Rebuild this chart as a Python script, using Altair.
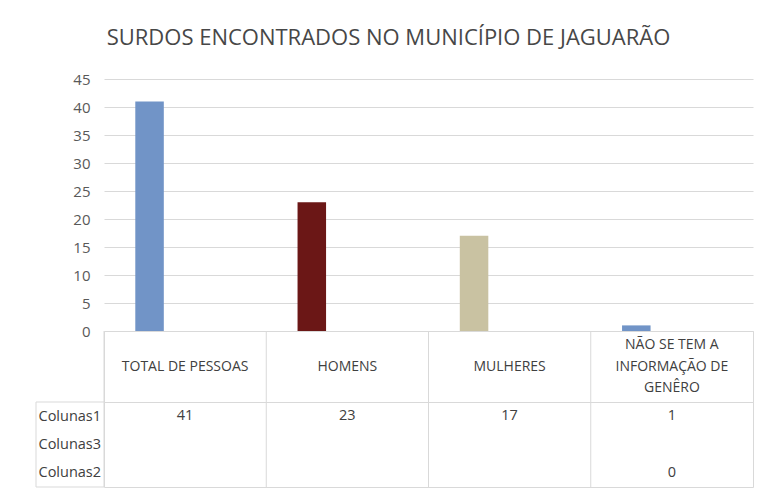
import altair as alt
import pandas as pd

# ---- data ----
title_text = "SURDOS ENCONTRADOS NO MUNICÍPIO DE JAGUARÃO"
categories = ["TOTAL DE PESSOAS", "HOMENS", "MULHERES", "NÃO SE TEM A\nINFORMAÇÃO DE\nGENÊRO"]
series = ["Colunas1", "Colunas3", "Colunas2"]
colunas1 = [41, 23, 17, 1]
colunas3 = [None, None, None, None]
colunas2 = [None, None, None, 0]
bar_colors = ["#7194C7", "#6B1716", "#C9C2A2", "#7194C7"]
y_ticks = [0, 5, 10, 15, 20, 25, 30, 35, 40, 45]

records = []
for s, vals in zip(series, [colunas1, colunas3, colunas2]):
    for c, v in zip(categories, vals):
        records.append({"categoria": c, "serie": s, "valor": v})
df = pd.DataFrame(records)
header_df = pd.DataFrame({"categoria": categories})

# ---- styling ----
FONT = "Open Sans"
GRID = "#D9D9D9"
TEXT = "#404040"
W = 649
PLOT_H = 252
HEADER_H = 71
ROWS_H = 85
LABEL_COL = 68
LINE_H = 21.5

x_scale = alt.Scale(domain=categories, paddingInner=0, paddingOuter=0)

bars = (
    alt.Chart(df)
    .transform_filter("isValid(datum.valor)")
    .mark_bar()
    .encode(
        x=alt.X("categoria:N", scale=x_scale, sort=categories, axis=None),
        xOffset=alt.XOffset(
            "serie:N",
            scale=alt.Scale(domain=series, paddingInner=0.147, paddingOuter=1, align=0.468),
        ),
        y=alt.Y(
            "valor:Q",
            scale=alt.Scale(domain=[0, 45], nice=False),
            axis=alt.Axis(
                values=y_ticks, title=None, domain=False, ticks=False,
                labelPadding=14, labelFont=FONT, labelFontSize=15,
                labelColor="#595959", gridColor=GRID,
            ),
        ),
        color=alt.Color("categoria:N", scale=alt.Scale(domain=categories, range=bar_colors), legend=None),
    )
    .properties(
        width=W,
        height=PLOT_H,
        view=alt.ViewBackground(stroke="transparent"),
        title=alt.TitleParams(
            text=title_text, font=FONT, fontSize=22, fontWeight="normal",
            color="#474747", anchor="middle", dx=-40, offset=22,
        ),
    )
)

# column separators of the data table (at the start of each category band)
def separators(data):
    return alt.Chart(data).mark_rule(color=GRID).encode(
        x=alt.X("categoria:N", scale=x_scale, sort=categories, axis=None, bandPosition=0)
    )

def header_layer(filter_expr, dy):
    return (
        alt.Chart(header_df)
        .transform_filter(filter_expr)
        .mark_text(font=FONT, fontSize=14, color=TEXT, lineBreak="\n",
                   lineHeight=LINE_H, baseline="middle", dy=dy)
        .encode(
            x=alt.X("categoria:N", scale=x_scale, sort=categories, axis=None),
            text="categoria:N",
        )
    )

header = (
    alt.layer(
        separators(header_df),
        header_layer("indexof(datum.categoria, '\\n') < 0", 0),
        header_layer("indexof(datum.categoria, '\\n') >= 0", -LINE_H),
    )
    .properties(width=W, height=HEADER_H, view=alt.ViewBackground(stroke=GRID))
)

row_text = (
    alt.Chart(df)
    .transform_filter("isValid(datum.valor)")
    .mark_text(font=FONT, fontSize=14.5, color=TEXT, baseline="middle")
    .encode(
        x=alt.X("categoria:N", scale=x_scale, sort=categories, axis=None),
        y=alt.Y(
            "serie:N",
            scale=alt.Scale(domain=series, paddingInner=0, paddingOuter=0),
            sort=series,
            axis=alt.Axis(title=None, ticks=False, domain=False, grid=False,
                          labelAlign="left", labelPadding=LABEL_COL - 2,
                          labelFont=FONT, labelFontSize=14.5, labelColor=TEXT),
        ),
        text=alt.Text("valor:Q", format="d"),
    )
)

frame_df = pd.DataFrame({"k": [0]})
frame_top = alt.Chart(frame_df).mark_rule(color=GRID).encode(
    x=alt.value(-LABEL_COL), x2=alt.value(0), y=alt.value(0))
frame_bottom = alt.Chart(frame_df).mark_rule(color=GRID).encode(
    x=alt.value(-LABEL_COL), x2=alt.value(0), y=alt.value(ROWS_H))
frame_left = alt.Chart(frame_df).mark_rule(color=GRID).encode(
    x=alt.value(-LABEL_COL), y=alt.value(0), y2=alt.value(ROWS_H))

rows = (
    alt.layer(separators(header_df), row_text, frame_top, frame_bottom, frame_left)
    .properties(width=W, height=ROWS_H, view=alt.ViewBackground(stroke=GRID))
)

chart = (
    alt.vconcat(bars, header, rows, spacing=0, bounds="flush")
    .properties(padding={"left": 27, "top": 18, "right": 5, "bottom": 5})
    .configure(background="white")
)

chart.save("out.html", embed_options={"renderer": "svg", "actions": False})
